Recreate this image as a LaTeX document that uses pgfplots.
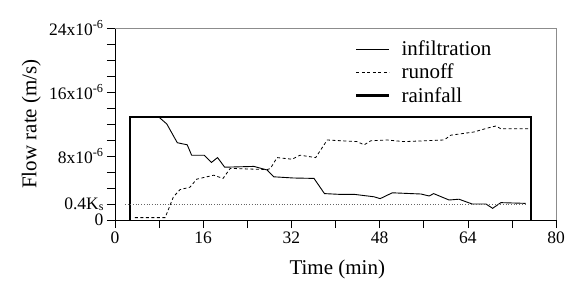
\documentclass[border=0pt]{standalone}
\usepackage{pgfplots}
\pgfplotsset{compat=1.18}
\usepackage{fontspec}
\setmainfont{Liberation Serif}
\begin{document}
\begin{tikzpicture}[x=1pt,y=1pt]
\begin{axis}[
  scale only axis, width=441pt, height=192pt,
  xmin=0, xmax=80, ymin=0, ymax=24,
  axis lines=left, axis line style={-, line width=0.8pt},
  tick align=outside, major tick length=8pt, minor tick length=8pt,
  every tick/.style={black, line width=0.6pt},
  xtick={0,16,32,48,64,80}, xticklabels={0,16,32,48,64,80},
  minor xtick={8,24,40,56,72},
  ytick={0,2,8,16,24},
  yticklabels={0,0.4K{\fontsize{12}{12}\selectfont\raisebox{-1pt}{s}},8x10\textsuperscript{-6},16x10\textsuperscript{-6},24x10\textsuperscript{-6}},
  minor ytick={4,6,10,12,14,18,20,22},
  tick label style={font=\fontsize{17.5}{20}\selectfont},
  yticklabel style={inner ysep=0pt},
  label style={font=\fontsize{21}{24}\selectfont},
  xlabel={Time (min)},
  ylabel={Flow rate (m/s)},
  xlabel style={at={(axis description cs:0.504,-0.26)}, anchor=center},
  ylabel style={at={(axis description cs:-0.19,0.5)}, anchor=center},
  legend style={at={(axis description cs:0.537,0.955)}, anchor=north west, draw=none, fill=none,
    font=\fontsize{21}{23}\selectfont, row sep=3pt, cells={anchor=west}},
  legend image code/.code={\draw[#1] (0pt,0pt) -- (33pt,0pt); \path (42pt,0pt);},
  clip=false,
]
\addplot[black, line width=0.9pt] coordinates {
(2.7,12.9) (7.9,12.9) (9.4,12.0) (11.3,9.66) (13.1,9.4) (13.9,8.1) (16.2,8.1) (17.5,7.2) (18.6,7.8) (19.9,6.6) (25.2,6.7) (27.6,6.25) (28.8,5.4) (32.4,5.25) (36.1,5.2) (38.0,3.3) (40.9,3.2) (43.5,3.2) (47.0,2.9) (48.1,2.67) (50.3,3.4) (55.5,3.25) (57.0,3.0) (57.8,3.3) (60.6,2.5) (62.4,2.6) (64.8,2.0) (67.3,2.0) (68.5,1.46) (70.0,2.17) (74.5,2.08)
};
\addlegendentry{infiltration}
\addplot[black, line width=0.8pt, dash pattern=on 3pt off 2.5pt] coordinates {
(3.6,0.3) (9.1,0.3) (10.6,2.9) (11.8,3.8) (13.6,4.1) (14.8,5.1) (17.9,5.6) (19.6,5.2) (20.9,6.45) (27.6,6.3) (28.2,6.45) (29.4,7.8) (32.1,7.6) (33.6,8.1) (36.4,7.8) (38.5,10.0) (43.9,9.8) (45.2,9.4) (46.4,9.9) (49.4,10.0) (52.4,9.8) (59.7,10.0) (60.9,10.6) (65.1,11.0) (67.6,11.5) (69.1,11.75) (70.0,11.4) (75.2,11.4)
};
\addlegendentry{runoff}
\addplot[black, line width=2.6pt] coordinates {
(2.7,0) (2.7,12.9) (75.5,12.9) (75.5,0)
};
\addlegendentry{rainfall}
\addplot[black!60, line width=0.7pt, dotted, forget plot] coordinates {(1.8,2) (74.5,2)};
\draw[black!45, line width=0.8pt] (rel axis cs:0,1) -- (rel axis cs:1,1) -- (rel axis cs:1,0);
\coordinate (bl) at (rel axis cs:0,0);
\coordinate (tr) at (rel axis cs:1,1);
\end{axis}
\pgfresetboundingbox
\path[use as bounding box] ([xshift=-115pt,yshift=-69pt]bl) rectangle ([xshift=12pt,yshift=28pt]tr);
\end{tikzpicture}
\end{document}
